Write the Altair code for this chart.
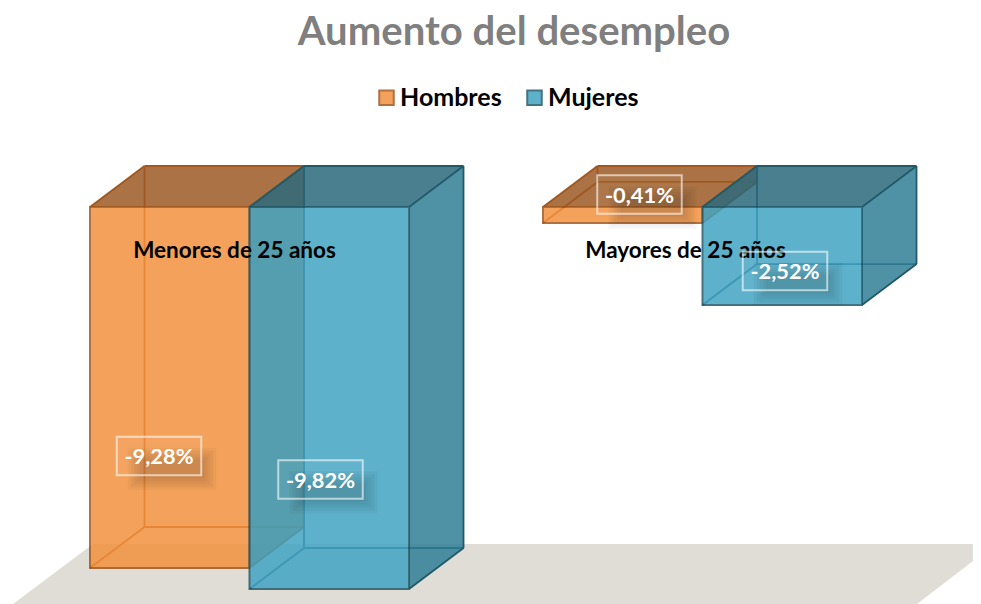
import altair as alt
import pandas as pd

# --- data ---
groups = ["Menores de 25 años", "Mayores de 25 años"]
series = ["Hombres", "Mujeres"]
hombres = [-9.28, -0.41]
mujeres = [-9.82, -2.52]
label_texts = {"Hombres": ["-9,28%", "-0,41%"], "Mujeres": ["-9,82%", "-2,52%"]}

# --- layout (page pixels) ---
W, H_TOTAL = 965, 596
PAD_TOP = 92
PLOT_H = H_TOTAL - PAD_TOP
PX_PER_PCT = 38.9
ZERO_PY = 207.0
GROUP_X = [90.0, 543.0]
SERIES_STEP = 159.5
BAR_W = 159.5
DX = 54.5
DY_PX = 41.0
EDGE = 1.8
BOX_W, BOX_H = 84.5, 38.5
BOX_CENTERS = {
    ("Hombres", 0): (159, 456), ("Mujeres", 0): (320.5, 479.5),
    ("Hombres", 1): (639.5, 194.5), ("Mujeres", 1): (785, 271),
}
GROUP_LABEL = [(234.5, 251), (685.5, 251)]

FILL = {"Hombres": "#F3913C", "Mujeres": "#40A3C2"}
TOP = {"Hombres": "#9B5821", "Mujeres": "#27667B"}
SIDE = {"Hombres": "#BB6F2E", "Mujeres": "#2D7D95"}
LINE = {"Hombres": "#A0561C", "Mujeres": "#215968"}
ALPHA = 0.84


def X(px):
    return px - 8


def V(py):
    return -(py - ZERO_PY) / PX_PER_PCT


x_scale = alt.Scale(domain=[0, W], range=[0, W], nice=False, zero=False)
y_scale = alt.Scale(domain=[V(PAD_TOP + 8 + PLOT_H), V(PAD_TOP + 8)], nice=False, zero=False)
xq = lambda f="x": alt.X(f"{f}:Q", scale=x_scale, axis=None, title=None)
yq = lambda f="y": alt.Y(f"{f}:Q", scale=y_scale, axis=None, title=None)
x2 = alt.X2("x2:Q")
y2 = alt.Y2("y2:Q")
dy = DY_PX / PX_PER_PCT


def rules(segs, color, width, opacity=1.0):
    df = pd.DataFrame(segs, columns=["x", "y", "x2", "y2"])
    return alt.Chart(df).mark_rule(color=color, strokeWidth=width, opacity=opacity).encode(
        x=xq(), y=yq(), x2=x2, y2=y2)


layers = []

# floor
floor = pd.DataFrame({
    "y": [V(544), V(604)],
    "x": [X(93), X(13)],
    "x2": [X(981 + 14), X(917)],
})
layers.append(alt.Chart(floor).mark_area(orient="horizontal", color="#E0DDD6", clip=True).encode(
    y=yq(), x=xq(), x2=x2))

# bars
for gi in range(len(groups)):
    for si, s in enumerate(series):
        v = (hombres if s == "Hombres" else mujeres)[gi]
        x0 = X(GROUP_X[gi] + si * SERIES_STEP)
        x1 = x0 + BAR_W
        d = DX
        # hidden edges
        layers.append(rules([
            (x0 + d, dy, x0 + d, v + dy),
            (x0 + d, v + dy, x1 + d, v + dy),
            (x0, v, x0 + d, v + dy),
        ], LINE[s], EDGE))
        # top face
        top = pd.DataFrame({"y": [0, dy], "x": [x0, x0 + d], "x2": [x1, x1 + d]})
        layers.append(alt.Chart(top).mark_area(orient="horizontal", color=TOP[s], opacity=ALPHA).encode(
            y=yq(), x=xq(), x2=x2))
        # side face
        side = pd.DataFrame({"x": [x1, x1 + d], "y": [0, dy], "y2": [v, v + dy]})
        layers.append(alt.Chart(side).mark_area(orient="vertical", color=SIDE[s], opacity=ALPHA).encode(
            x=xq(), y=yq(), y2=y2))
        # front face
        front = pd.DataFrame({"serie": [s], "x": [x0], "x2": [x1], "y": [0.0], "y2": [v]})
        layers.append(alt.Chart(front).mark_rect(opacity=ALPHA, strokeWidth=2).encode(
            x=xq(), x2=x2, y=yq(), y2=y2,
            fill=alt.Fill("serie:N", scale=alt.Scale(domain=series, range=[FILL[k] for k in series]),
                          legend=alt.Legend(
                              title=None, orient="none", legendX=366, legendY=-15,
                              direction="horizontal", columns=2, columnPadding=20,
                              symbolType="square", symbolSize=210, symbolStrokeWidth=2,
                              symbolOpacity=0.84,
                              labelFont="Lato", labelFontWeight="bold", labelFontSize=25,
                              labelColor="#000000", labelOffset=1)),
            stroke=alt.Stroke("serie:N", scale=alt.Scale(domain=series, range=[LINE[k] for k in series]),
                              legend=None),
        ))
        # visible edges
        layers.append(rules([
            (x0, 0, x0 + d, dy),
            (x0 + d, dy, x1 + d, dy),
            (x1, 0, x1 + d, dy),
            (x1 + d, dy, x1 + d, v + dy),
            (x1, v, x1 + d, v + dy),
        ], LINE[s], EDGE))

# group labels
gdf = pd.DataFrame({"t": groups, "x": [X(p[0]) for p in GROUP_LABEL], "y": [V(p[1]) for p in GROUP_LABEL]})
layers.append(alt.Chart(gdf).mark_text(font="Lato", fontWeight="bold", fontSize=22.5, color="#000000",
                                       baseline="middle").encode(x=xq(), y=yq(), text="t:N"))

# data label shadows, boxes and texts
for (s, gi), (cx, cy) in BOX_CENTERS.items():
    for grow in [2, -1, -4, -7, -10]:
        sh = pd.DataFrame({
            "x": [X(cx - BOX_W / 2 + 13 - grow)], "x2": [X(cx + BOX_W / 2 + 13 + grow)],
            "y": [V(cy - BOX_H / 2 + 13 - grow)], "y2": [V(cy + BOX_H / 2 + 13 + grow)],
        })
        layers.append(alt.Chart(sh).mark_rect(color="#000000", opacity=0.035).encode(
            x=xq(), x2=x2, y=yq(), y2=y2))
    box = pd.DataFrame({
        "x": [X(cx - BOX_W / 2)], "x2": [X(cx + BOX_W / 2)],
        "y": [V(cy - BOX_H / 2)], "y2": [V(cy + BOX_H / 2)],
    })
    layers.append(alt.Chart(box).mark_rect(fill="#FFFFFF", fillOpacity=0.03, stroke="#FFFFFF",
                                           strokeOpacity=0.6, strokeWidth=2).encode(
        x=xq(), x2=x2, y=yq(), y2=y2))
    tdf = pd.DataFrame({"t": [label_texts[s][gi]], "x": [X(cx)], "y": [V(cy + 1)]})
    layers.append(alt.Chart(tdf).mark_text(font="Lato", fontWeight="bold", fontSize=21.8, color="#FFFFFF",
                                           baseline="middle").encode(x=xq(), y=yq(), text="t:N"))

chart = alt.layer(*layers).properties(
    width=W,
    height=PLOT_H,
    padding={"left": 0, "right": 0, "top": PAD_TOP, "bottom": 0},
    autosize=alt.AutoSizeParams(type="none"),
    title=alt.TitleParams(
        "Aumento del desempleo", font="Lato", fontWeight="bold", fontSize=40.1, color="#7F7F7F",
        anchor="middle", frame="group", dx=23.5, offset=32),
).configure_view(stroke=None).resolve_scale(fill="shared", stroke="shared")

chart.save("out.html", embed_options={"renderer": "svg", "actions": False})
